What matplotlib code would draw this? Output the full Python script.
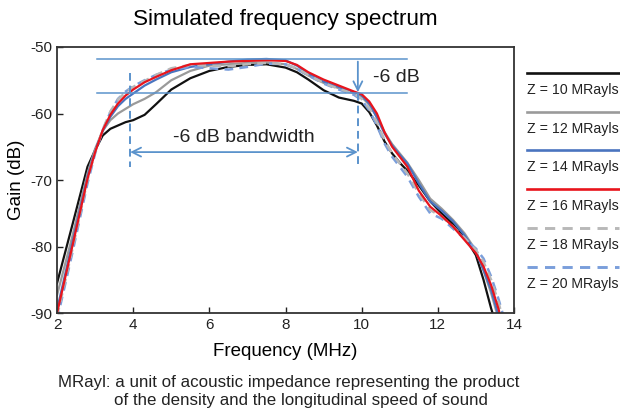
import matplotlib
matplotlib.use("Agg")
import matplotlib.pyplot as plt

plt.rcParams['font.family'] = ['Liberation Sans', 'DejaVu Sans']
plt.rcParams['axes.unicode_minus'] = False

# frequency grid (MHz)
freq = [2.0, 2.4, 2.8, 3.0, 3.2, 3.4, 3.6, 3.8, 4.0, 4.3, 4.6, 5.0, 5.5, 6.0,
        6.5, 7.0, 7.5, 8.0, 8.3, 8.6, 9.0, 9.4, 9.8, 10.0, 10.2, 10.4, 10.6,
        10.8, 11.0, 11.2, 11.5, 11.8, 12.1, 12.4, 12.7, 13.0, 13.2, 13.4, 13.6, 13.8]

gain_z10 = [-85.5, -76.8, -68.0, -65.5, -63.3, -62.3, -61.8, -61.3, -61.0, -60.2,
            -58.6, -56.4, -54.7, -53.6, -53.0, -52.7, -52.6, -53.1, -53.8, -54.9,
            -56.5, -57.6, -58.1, -58.5, -59.8, -61.8, -64.2, -66.0, -67.4, -68.6,
            -70.8, -73.2, -75.0, -76.6, -78.5, -81.3, -85.0, -89.3, -93.0, -96.0]
gain_z12 = [-87.3, -78.5, -69.0, -65.3, -62.6, -61.0, -60.0, -59.3, -58.6, -57.8,
            -56.8, -55.0, -53.6, -52.8, -52.6, -52.4, -52.3, -52.6, -53.3, -54.3,
            -55.4, -56.2, -57.0, -57.5, -58.7, -60.5, -62.8, -64.6, -66.0, -67.4,
            -70.0, -72.8, -74.3, -76.0, -78.0, -80.6, -83.6, -87.0, -91.0, -95.0]
gain_z14 = [-89.5, -79.5, -69.5, -65.6, -62.6, -60.5, -58.9, -57.8, -57.0, -55.8,
            -54.9, -53.8, -53.0, -52.6, -52.2, -51.9, -51.8, -52.0, -52.8, -54.0,
            -55.2, -56.0, -56.8, -57.3, -58.5, -60.6, -63.0, -64.8, -66.2, -67.5,
            -70.5, -73.2, -74.6, -76.2, -78.3, -80.8, -83.5, -86.5, -90.5, -95.0]
gain_z16 = [-90.0, -80.0, -69.8, -65.8, -62.5, -60.2, -58.5, -57.3, -56.4, -55.3,
            -54.5, -53.5, -52.6, -52.4, -52.2, -52.1, -52.0, -52.1, -52.7, -53.8,
            -54.9, -55.8, -56.7, -57.1, -58.2, -60.0, -62.8, -65.0, -66.5, -68.0,
            -71.6, -74.0, -75.4, -77.0, -79.0, -81.0, -83.0, -85.8, -89.5, -95.0]
gain_z18 = [-90.5, -80.5, -70.0, -65.8, -62.4, -59.7, -57.9, -56.8, -56.0, -55.1,
            -54.2, -53.2, -52.7, -52.8, -52.9, -52.6, -52.4, -52.6, -53.2, -54.2,
            -55.4, -56.3, -57.0, -57.8, -59.2, -61.3, -64.0, -66.0, -67.5, -69.0,
            -72.0, -74.5, -75.5, -77.0, -78.7, -80.5, -82.3, -85.0, -88.5, -93.0]
gain_z20 = [-91.0, -81.0, -70.5, -66.0, -62.5, -59.8, -57.8, -56.7, -55.9, -55.0,
            -54.2, -53.4, -53.0, -53.2, -53.4, -53.0, -52.5, -52.6, -53.3, -54.3,
            -55.5, -56.4, -57.2, -58.0, -59.5, -61.8, -64.5, -66.5, -68.0, -69.5,
            -72.5, -75.0, -75.8, -77.3, -78.8, -80.3, -81.8, -84.5, -88.0, -92.0]

labels = ['Z = 10 MRayls', 'Z = 12 MRayls', 'Z = 14 MRayls',
          'Z = 16 MRayls', 'Z = 18 MRayls', 'Z = 20 MRayls']

ann = '#5b93cc'
colors = ['#111111', '#9a9a9a', '#4a74bf', '#e8141c', '#b8b8b8', '#7a9edb']
styles = ['-', '-', '-', '-', (0, (3.5, 2.5)), (0, (3.5, 2.5))]
widths = [1.6, 1.6, 1.6, 1.6, 1.8, 1.8]

fig = plt.figure(figsize=(6.2, 4.12), dpi=100)
ax = fig.add_axes([0.092, 0.240, 0.737, 0.646])

series = [gain_z10, gain_z12, gain_z14, gain_z20, gain_z18, gain_z16]
order = [0, 1, 2, 5, 4, 3]
for s, i in zip(series, order):
    ax.plot(freq, s, color=colors[i], ls=styles[i], lw=widths[i])

# -6 dB level lines and bandwidth markers
ax.plot([3.05, 11.2], [-51.8, -51.8], color=ann, lw=1.1)
ax.plot([3.05, 11.2], [-56.9, -56.9], color=ann, lw=1.1)
ax.plot([3.92, 3.92], [-53.9, -68.0], color=ann, lw=1.4, ls=(0, (4, 2.5)))
ax.plot([9.9, 9.9], [-56.9, -68.0], color=ann, lw=1.4, ls=(0, (4, 2.5)))
ax.annotate('', xy=(3.92, -65.8), xytext=(9.9, -65.8),
            arrowprops=dict(arrowstyle='<->', color=ann, lw=1.3,
                            mutation_scale=16, shrinkA=0, shrinkB=0))
ax.annotate('', xy=(9.9, -56.8), xytext=(9.9, -52.2),
            arrowprops=dict(arrowstyle='->', color=ann, lw=1.3,
                            mutation_scale=16, shrinkA=0, shrinkB=0))
ax.text(6.9, -63.6, '-6 dB bandwidth', ha='center', va='center', fontsize=14, color='#222222')
ax.text(10.3, -54.6, '-6 dB', ha='left', va='center', fontsize=14, color='#222222')

ax.set_xlim(2, 14)
ax.set_ylim(-90, -50)
ax.set_xticks([2, 4, 6, 8, 10, 12, 14])
ax.set_yticks([-50, -60, -70, -80, -90])
ax.tick_params(direction='in', length=4, labelsize=11, colors='#222222', width=1)
for sp in ax.spines.values():
    sp.set_color('#333333')
    sp.set_linewidth(1.3)
ax.set_xlabel('Frequency (MHz)', fontsize=13.5, labelpad=8)
ax.set_ylabel('Gain (dB)', fontsize=13.5, labelpad=4)
fig.text(0.46, 1 - 19 / 412, 'Simulated frequency spectrum', ha='center', va='center', fontsize=16.2)

# legend: line above each label, outside the axes
line_y = [73, 112, 150, 189, 228, 267]
for i in range(6):
    yl = 1 - line_y[i] / 412
    fig.add_artist(plt.Line2D([527 / 620, 619 / 620], [yl, yl], color=colors[i],
                              ls=styles[i], lw=widths[i] + 0.3))
    fig.text(527 / 620, 1 - (line_y[i] + 17) / 412, labels[i], ha='left', va='center',
             fontsize=10.2, color='#222222')

fig.text(289 / 620, 1 - 382 / 412, 'MRayl: a unit of acoustic impedance representing the product',
         ha='center', va='center', fontsize=12.2, color='#222222')
fig.text(301 / 620, 1 - 401 / 412, 'of the density and the longitudinal speed of sound',
         ha='center', va='center', fontsize=12.2, color='#222222')

fig.savefig('out.png', dpi=100)
